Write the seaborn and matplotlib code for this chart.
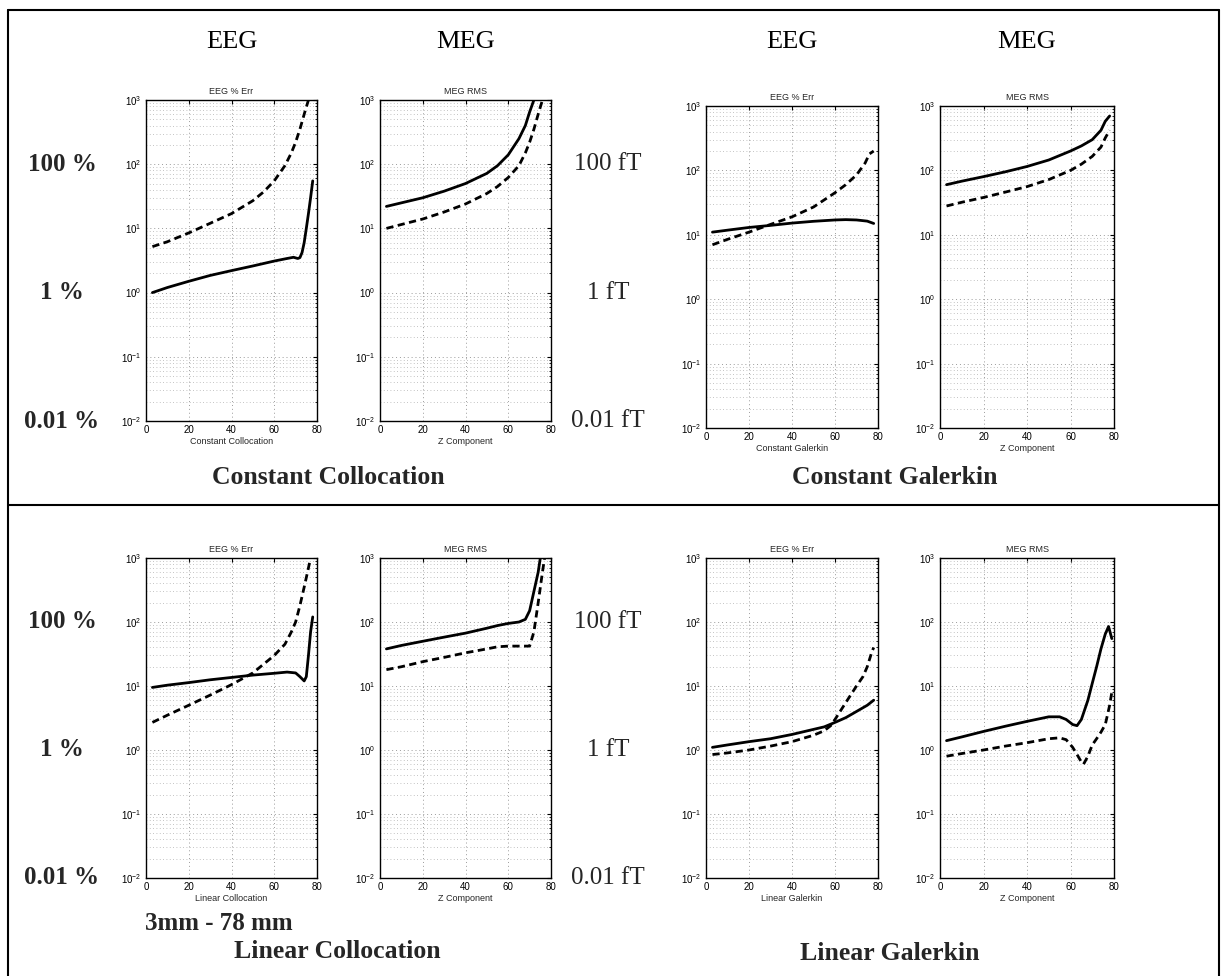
import numpy as np
import pandas as pd
import matplotlib
matplotlib.use("Agg")
import matplotlib.pyplot as plt
import seaborn as sns
from matplotlib.lines import Line2D
from matplotlib import transforms
from matplotlib.ticker import LogLocator, NullFormatter

# ---------------- data ----------------
# Constant Collocation, EEG % Err
cc_eeg_sx = [3, 10, 20, 30, 40, 50, 60, 66, 69, 71, 72, 73, 74, 75, 76, 77, 78]
cc_eeg_sy = [1.0, 1.2, 1.5, 1.85, 2.2, 2.6, 3.1, 3.4, 3.55, 3.4, 3.5, 4.2, 6.0, 10, 17, 30, 55]
cc_eeg_dx = [3, 10, 20, 30, 40, 50, 55, 60, 65, 68, 70, 72, 74, 76]
cc_eeg_dy = [5.2, 6.2, 8.5, 12, 17, 27, 37, 55, 95, 150, 220, 350, 600, 1000]
# Constant Collocation, MEG RMS
cc_meg_sx = [3, 10, 20, 30, 40, 50, 55, 60, 65, 68, 70, 72]
cc_meg_sy = [22, 25, 30, 38, 50, 72, 95, 140, 250, 400, 650, 1000]
cc_meg_dx = [3, 10, 20, 30, 40, 50, 55, 60, 65, 68, 70, 72, 74, 76]
cc_meg_dy = [10, 11.5, 14, 18, 24, 35, 45, 62, 95, 150, 220, 350, 600, 1000]
# Constant Galerkin, EEG % Err
cg_eeg_sx = [3, 10, 20, 30, 40, 50, 60, 65, 70, 75, 78]
cg_eeg_sy = [11, 11.8, 13, 14, 15.2, 16.2, 17, 17.2, 17, 16.3, 15]
cg_eeg_dx = [3, 10, 20, 30, 40, 50, 60, 65, 70, 74, 76, 78]
cg_eeg_dy = [7, 8.5, 11, 14.5, 19, 27, 45, 60, 85, 130, 180, 200]
# Constant Galerkin, MEG RMS
cg_meg_sx = [3, 10, 20, 30, 40, 50, 60, 65, 70, 74, 76, 78]
cg_meg_sy = [60, 68, 80, 95, 115, 145, 200, 240, 300, 420, 580, 700]
cg_meg_dx = [3, 10, 20, 30, 40, 50, 60, 65, 70, 74, 76, 78]
cg_meg_dy = [28, 32, 38, 46, 56, 72, 100, 125, 165, 230, 320, 420]
# Linear Collocation, EEG % Err
lc_eeg_sx = [3, 10, 20, 30, 40, 50, 60, 66, 70, 72, 74, 75, 76, 77, 78]
lc_eeg_sy = [9.5, 10.3, 11.3, 12.5, 13.6, 14.8, 15.8, 16.5, 16, 14, 12, 14, 30, 70, 120]
lc_eeg_dx = [3, 10, 20, 30, 40, 50, 60, 65, 68, 70, 72, 74, 76, 77]
lc_eeg_dy = [2.7, 3.5, 5, 7.2, 10.5, 16, 30, 45, 70, 100, 180, 350, 700, 1000]
# Linear Collocation, MEG RMS
lc_meg_sx = [3, 10, 20, 30, 40, 50, 55, 60, 65, 68, 70, 72, 74, 75]
lc_meg_sy = [38, 43, 50, 58, 67, 80, 88, 95, 100, 110, 150, 300, 600, 1000]
lc_meg_dx = [3, 10, 20, 30, 40, 50, 55, 60, 65, 70, 72, 74, 76, 77]
lc_meg_dy = [18, 20, 24, 28, 33, 38, 41, 42, 42, 42, 70, 200, 600, 1000]
# Linear Galerkin, EEG % Err
lg_eeg_sx = [3, 10, 20, 30, 40, 50, 55, 60, 65, 70, 75, 78]
lg_eeg_sy = [1.1, 1.2, 1.35, 1.5, 1.75, 2.1, 2.3, 2.7, 3.2, 4.0, 5.0, 6.0]
lg_eeg_dx = [3, 10, 20, 30, 40, 50, 55, 58, 60, 65, 70, 73, 75, 77, 78]
lg_eeg_dy = [0.85, 0.9, 1.0, 1.15, 1.35, 1.7, 2.0, 2.4, 3.0, 5.5, 10, 14, 20, 33, 40]
# Linear Galerkin, MEG RMS
lg_meg_sx = [3, 10, 20, 30, 40, 50, 55, 58, 61, 63, 65, 68, 70, 72, 74, 76, 77.5, 79]
lg_meg_sy = [1.4, 1.6, 1.95, 2.35, 2.8, 3.3, 3.3, 3.0, 2.5, 2.4, 3.0, 6.0, 11, 20, 38, 65, 85, 55]
lg_meg_dx = [3, 10, 20, 30, 40, 50, 55, 58, 61, 63, 65, 66, 68, 70, 72, 74, 76, 78, 79]
lg_meg_dy = [0.8, 0.88, 1.0, 1.15, 1.3, 1.5, 1.55, 1.45, 1.1, 0.85, 0.65, 0.6, 0.8, 1.2, 1.5, 1.9, 2.5, 5.0, 8.0]

titles = ["EEG % Err", "MEG RMS", "EEG % Err", "MEG RMS",
          "EEG % Err", "MEG RMS", "EEG % Err", "MEG RMS"]
xlabels = ["Constant Collocation", "Z Component", "Constant Galerkin", "Z Component",
           "Linear Collocation", "Z Component", "Linear Galerkin", "Z Component"]
series = [
    (cc_eeg_sx, cc_eeg_sy, cc_eeg_dx, cc_eeg_dy),
    (cc_meg_sx, cc_meg_sy, cc_meg_dx, cc_meg_dy),
    (cg_eeg_sx, cg_eeg_sy, cg_eeg_dx, cg_eeg_dy),
    (cg_meg_sx, cg_meg_sy, cg_meg_dx, cg_meg_dy),
    (lc_eeg_sx, lc_eeg_sy, lc_eeg_dx, lc_eeg_dy),
    (lc_meg_sx, lc_meg_sy, lc_meg_dx, lc_meg_dy),
    (lg_eeg_sx, lg_eeg_sy, lg_eeg_dx, lg_eeg_dy),
    (lg_meg_sx, lg_meg_sy, lg_meg_dx, lg_meg_dy),
]
column_heads = ["EEG", "MEG", "EEG", "MEG"]
pct_labels = ["100 %", "1 %", "0.01 %"]
ft_labels = ["100 fT", "1 fT", "0.01 fT"]
label_levels = [1e2, 1e0, 1e-2]

# ---------------- layout ----------------
W, H = 1222, 976
sns.set_theme(style="white")
plt.rcParams["font.family"] = ["Liberation Sans", "DejaVu Sans"]
plt.rcParams["mathtext.fontset"] = "custom"
plt.rcParams["mathtext.rm"] = "Liberation Sans"
plt.rcParams["mathtext.it"] = "Liberation Sans:italic"
plt.rcParams["mathtext.bf"] = "Liberation Sans:bold"

fig = plt.figure(figsize=(W / 100, H / 100), dpi=100)
fig.patch.set_facecolor("white")

# pixel boxes (left, top, right, bottom)
boxes = [
    (146, 100, 317, 421), (380, 100, 551, 421),
    (706, 106, 878, 428), (940, 106, 1114, 428),
    (146, 558, 317, 878), (380, 558, 551, 878),
    (706, 558, 878, 878), (940, 558, 1114, 878),
]

def px_rect(b):
    l, t, r, bt = b
    return [l / W, 1 - bt / H, (r - l) / W, (bt - t) / H]

axes = []
for i, b in enumerate(boxes):
    ax = fig.add_axes(px_rect(b))
    sx, sy, dx, dy = series[i]
    df = pd.DataFrame({
        "x": list(sx) + list(dx),
        "y": list(sy) + list(dy),
        "kind": ["solid"] * len(sx) + ["dashed"] * len(dx),
    })
    sns.lineplot(data=df, x="x", y="y", style="kind",
                 dashes={"solid": "", "dashed": (2.6, 1.6)},
                 color="black", linewidth=2.0, estimator=None, sort=False,
                 legend=False, ax=ax)
    ax.set_yscale("log")
    ax.set_ylim(1e-2, 1e3)
    ax.set_xlim(0, 80)
    ax.set_xticks([0, 20, 40, 60, 80])
    ax.yaxis.set_major_locator(LogLocator(base=10, numticks=10))
    ax.yaxis.set_minor_locator(LogLocator(base=10, subs=np.arange(2, 10), numticks=20))
    ax.yaxis.set_minor_formatter(NullFormatter())
    ax.grid(True, which="major", axis="both", color="#9a9a9a", linestyle=(0, (1, 3)), linewidth=0.7)
    ax.grid(True, which="minor", axis="y", color="#b0b0b0", linestyle=(0, (1, 3)), linewidth=0.6)
    ax.tick_params(which="both", direction="in", top=True, right=True, colors="black",
                   labelsize=7, pad=3)
    ax.tick_params(which="major", length=3, width=0.8)
    ax.tick_params(which="minor", length=1.5, width=0.6)
    for s in ax.spines.values():
        s.set_color("black")
        s.set_linewidth(1.0)
    ax.set_title(titles[i], fontsize=6.5, pad=4)
    ax.set_xlabel(xlabels[i], fontsize=6.5, labelpad=1)
    ax.set_ylabel("")
    axes.append(ax)

serif = ["Liberation Serif", "DejaVu Serif"]

# column heads
for j, ax in enumerate(axes[:4]):
    l, t, r, b = boxes[j]
    fig.text(((l + r) / 2) / W, 1 - 42 / H, column_heads[j], ha="center", va="center",
             fontsize=19, family=serif, color="black")

# left percentage / fT labels (aligned on decades)
for row_ax_l, row_ax_r in [(axes[0], axes[1]), (axes[4], axes[5])]:
    trl = transforms.blended_transform_factory(fig.transFigure, row_ax_l.transData)
    trr = transforms.blended_transform_factory(fig.transFigure, row_ax_r.transData)
    for lab, lev in zip(pct_labels, label_levels):
        fig.text(62 / W, lev, lab, transform=trl, ha="center", va="center",
                 fontsize=18, fontweight="bold", family=serif)
    for lab, lev in zip(ft_labels, label_levels):
        fig.text(608 / W, lev, lab, transform=trr, ha="center", va="center",
                 fontsize=18, family=serif)

# method titles
def ftext(x, y, s, size=18.5):
    fig.text(x / W, 1 - y / H, s, ha="center", va="center", family=serif,
             fontweight="bold", fontsize=size)

ftext(328, 477, "Constant Collocation")
ftext(895, 477, "Constant Galerkin")
ftext(219, 923, "3mm - 78 mm", size=18)
ftext(337, 951, "Linear Collocation")
ftext(890, 953, "Linear Galerkin")

# frame lines
def fline(x0, y0, x1, y1, lw=1.5):
    fig.add_artist(Line2D([x0 / W, x1 / W], [1 - y0 / H, 1 - y1 / H],
                          transform=fig.transFigure, color="black", linewidth=lw))

fline(8, 10, 1219, 10)
fline(8, 10, 8, 976)
fline(1219, 10, 1219, 976)
fline(8, 505, 1219, 505)

fig.savefig("out.png", dpi=100, facecolor="white")
